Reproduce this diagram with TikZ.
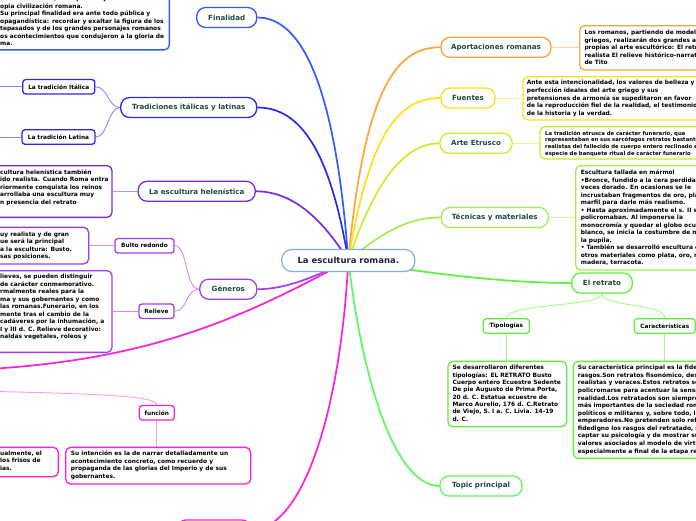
\documentclass[tikz,border=0pt]{standalone}
\usepackage{fontspec}
\setmainfont{DejaVu Sans}
\usetikzlibrary{backgrounds}
\definecolor{titlecol}{HTML}{1E4A3C}
\definecolor{centcol}{HTML}{1A2340}
\definecolor{cCen}{HTML}{7FB0DC}
\definecolor{cFin}{HTML}{2F5BFF}
\definecolor{cTra}{HTML}{2A2AEE}
\definecolor{cTraL}{HTML}{8A8AFF}
\definecolor{cHel}{HTML}{7A2BE8}
\definecolor{cGen}{HTML}{A33CF0}
\definecolor{cGenL}{HTML}{D08CFF}
\definecolor{cMag}{HTML}{FF1FD6}
\definecolor{cMagL}{HTML}{FF99EE}
\definecolor{cApo}{HTML}{FFA43A}
\definecolor{cFue}{HTML}{FFE01A}
\definecolor{cEtr}{HTML}{C6F02A}
\definecolor{cTec}{HTML}{A5EE4A}
\definecolor{cRet}{HTML}{5EF03A}
\definecolor{cRetL}{HTML}{9CFF80}
\definecolor{cTop}{HTML}{5CFA5C}
\newcommand\lf{\fontsize{5.9}{7.5}\selectfont\bfseries}
\newcommand\lfs{\fontsize{5.3}{6.67}\selectfont\bfseries}
\tikzset{
 mainnode/.style={draw, line width=1.3pt, rounded corners=9pt, fill=white, minimum height=20pt, inner sep=0pt, font=\fontsize{7.1}{8}\selectfont\bfseries, text=titlecol},
 subnode/.style={draw, line width=1.3pt, rounded corners=3pt, fill=white, minimum height=14.5pt, inner sep=0pt, font=\fontsize{5.8}{7}\selectfont\bfseries, text=black},
 leafbox/.style={draw, line width=1.3pt, rounded corners=5pt, fill=white, inner sep=0pt},
 leaftext/.style={inner sep=0pt, align=left, font=\lf, text=black, anchor=base west},
 branch/.style={line width=1.7pt},
 twig/.style={line width=0.9pt},
}
\begin{document}
\begin{tikzpicture}[x=1pt,y=-1pt]
\useasboundingbox (0,0) rectangle (696,520);
\clip (0,0) rectangle (696,520);
\coordinate (c) at (348.3,260.5);
% central
\node[draw=cCen, line width=1.2pt, rounded corners=10pt, fill=white, minimum width=133pt, minimum height=22pt, inner sep=0pt, font=\fontsize{8.5}{9}\selectfont\bfseries, text=centcol] (cen) at (c) {La escultura romana.};
% main nodes
\node[mainnode, draw=cFin, minimum width=60pt] (fin) at (226.7,17.5) {Finalidad};
\node[mainnode, draw=cTra, minimum width=136pt] (tra) at (188.7,107.5) {Tradiciones itálicas y latinas};
\node[mainnode, draw=cHel, minimum width=117pt] (hel) at (196.7,191.3) {La escultura helenística};
\node[mainnode, draw=cGen, minimum width=57pt] (gen) at (228.3,289.2) {Géneros};
\node[mainnode, draw=cApo, minimum width=110pt] (apo) at (496,47.3) {Aportaciones romanas};
\node[mainnode, draw=cFue, minimum width=54pt] (fue) at (468,98) {Fuentes};
\node[mainnode, draw=cEtr, minimum width=72pt] (etr) at (476,143.3) {Arte Etrusco};
\node[mainnode, draw=cTec, minimum width=107pt] (tec) at (494.7,217.5) {Técnicas y materiales};
\node[mainnode, draw=cRet, minimum width=60.7pt] (ret) at (602,283) {El retrato};
\node[mainnode, draw=cTop, minimum width=82pt] (top) at (481,486) {Topic principal};
\node[mainnode, draw=cMag, minimum width=74pt] (bot) at (214,530) {};
% sub nodes
\node[subnode, draw=cTra, minimum width=72pt] (ita) at (58.8,86.8) {La tradición Itálica};
\node[subnode, draw=cTra, minimum width=73pt] (lat) at (58.5,137) {La tradición Latina};
\node[subnode, draw=cGen, minimum width=59pt] (bul) at (144.5,245.8) {Bulto redondo};
\node[subnode, draw=cGen, minimum width=35pt] (rel) at (156.5,311.2) {Relieve};
\node[subnode, draw=cMag, minimum width=35pt] (fun) at (156.8,412.8) {función};
\node[subnode, draw=cRet, minimum width=46pt] (tip) at (506.3,326) {Tipologías};
\node[subnode, draw=cRet, minimum width=61pt] (car) at (664.8,326) {Características};
% leaf boxes (text nodes anchored at the baseline of their last line)
\node[leafbox, draw=cFin, anchor=south east, minimum width=300pt, minimum height=80pt] (finb) at (170,50.5) {};
\node[leaftext] (fint) at (0,45.8) {amente estética, sino que reflejasen los valores la\\opia civilización romana.\\Su principal finalidad era ante todo pública y\\opagandística: recordar y exaltar la figura de los\\tepasados y de los grandes personajes romanos\\os acontecimientos que condujeron a la gloria de\\ma.};
\node[leafbox, draw=cHel, anchor=north east, minimum width=250pt, minimum height=51.7pt] (helb) at (112.7,165) {};
\node[leaftext] (helt) at (0,204.2) {cultura helenística también\\ido realista. Cuando Roma entra\\riormente conquista los reinos\\arrollaba una escultura muy\\n presencia del retrato};
\node[leafbox, draw=cGen, anchor=north east, minimum width=250pt, minimum height=36.6pt] (bulb) at (89.3,226.7) {};
\node[leaftext] (bult) at (0,258.5) {uy realista y de gran\\ue será la principal\\a la escultura: Busto.\\sas posiciones.};
\node[leafbox, draw=cGen, anchor=north east, minimum width=250pt, minimum height=81.7pt] (relb) at (112.7,270) {};
\node[leaftext] (relt) at (0,338.7) {lieves, se pueden distinguir\\de carácter conmemorativo.\\rmalmente reales para la\\ma y sus gobernantes y como\\las romanas.Funerario, en los\\mente tras el cambio de la\\cadáveres por la inhumación, a\\I y III d. C. Relieve decorativo:\\naldas vegetales, roleos y};
\node[leafbox, draw=cMag, anchor=north west, minimum width=185pt, minimum height=36.6pt] (funb) at (65,446.7) {};
\node[leaftext] (funt) at (70.7,478) {Su intención es la de narrar detalladamente un\\acontecimiento concreto, como recuerdo y\\propaganda de las glorias del Imperio y de sus\\gobernantes.};
\node[leafbox, draw=cMag, anchor=north east, minimum width=200pt, minimum height=29.3pt] (lftb) at (59,446.7) {};
\node[leaftext] (lftt) at (0,470.3) {ualmente, el\\los frisos de\\ias.};
\node[leafbox, draw=cApo, anchor=north west, minimum width=200pt, minimum height=44.3pt] (apob) at (579,25) {};
\node[leaftext] (apot) at (584.3,64.7) {Los romanos, partiendo de modelos\\griegos, realizarán dos grandes aportaciones\\propias al arte escultórico: El retrato\\realista El relieve histórico-narrativo. Arco\\de Tito};
\node[leafbox, draw=cFue, anchor=north west, minimum width=200pt, minimum height=43.3pt] (fueb) at (522.3,76) {};
\node[leaftext, font=\fontsize{5.9}{7.65}\selectfont\bfseries] (fuet) at (526.7,115.3) {Ante esta intencionalidad, los valores de belleza y\\perfección ideales del arte griego y sus\\pretensiones de armonía se supeditaron en favor\\de la reproducción fiel de la realidad, el testimonio\\de la historia y la verdad.};
\node[leafbox, draw=cEtr, anchor=north west, minimum width=200pt, minimum height=32.3pt] (etrb) at (539.3,126) {};
\node[leaftext, font=\lfs] (etrt) at (545,155.3) {La tradición etrusca de carácter funerario, que\\representaban en sus sarcófagos retratos bastante\\realistas del fallecido de cuerpo entero reclinado en\\especie de banquete ritual de carácter funerario};
\node[leafbox, draw=cTec, anchor=north west, minimum width=200pt, minimum height=104.3pt] (tecb) at (575,165) {};
\node[leaftext] (tect) at (580.7,264.7) {Escultura tallada en mármol\\•Bronce, fundido a la cera perdida, a\\veces dorado. En ocasiones se le\\incrustaban fragmentos de oro, plata,\\marfil para darle más realismo.\\• Hasta aproximadamente el s. II se\\policromaban. Al imponerse la\\monocromía y quedar el globo ocular\\blanco, se inicia la costumbre de marcar\\la pupila.\\• También se desarrolló escultura en\\otros materiales como plata, oro, marfil,\\madera, terracota.};
\node[leafbox, draw=cRet, anchor=north west, minimum width=118.7pt, minimum height=65.3pt] (tipb) at (447.3,360.7) {};
\node[leaftext, font=\fontsize{5.9}{7.37}\selectfont\bfseries] (tipt) at (452.3,421.3) {Se desarrollaron diferentes\\tipologías: EL RETRATO Busto\\Cuerpo entero Ecuestre Sedente\\De pie Augusto de Prima Porta,\\20 d. C. Estatua ecuestre de\\Marco Aurelio, 176 d. C.Retrato\\de Viejo, S. I a. C. Livia. 14-19\\d. C.};
\node[leafbox, draw=cRet, anchor=north west, minimum width=200pt, minimum height=97pt] (carb) at (572.7,360.7) {};
\node[leaftext, font=\fontsize{5.9}{7.57}\selectfont\bfseries] (cart) at (577.7,453) {Su característica principal es la fidelidad de los\\rasgos.Son retratos fisonómico, descriptivos,\\realistas y veraces.Estos retratos solían\\policromarse para acentuar la sensación de\\realidad.Los retratados son siempre los personajes\\más importantes de la sociedad romana:\\políticos o militares y, sobre todo, los\\emperadores.No pretenden solo reflejar de manera\\fidedigno los rasgos del retratado, sino también\\captar su psicología y de mostrar sus\\valores asociados al modelo de virtud romana,\\especialmente a final de la etapa republicana.};
% free ends
\coordinate (ml) at (-3,368.5);
\coordinate (mf) at (-3,391.5);
\coordinate (ital) at (-3,86.8);
\coordinate (latl) at (-3,137);
\begin{scope}[on background layer]
\fill[white] (0,0) rectangle (696,520);
% main branches
\draw[branch, cFin] (c) .. controls (335,80) and (300,17.5) .. (fin.east);
\draw[branch, cTra] (c) .. controls (330,150) and (300,107.5) .. (tra.east);
\draw[branch, cHel] (c) .. controls (320,215) and (290,191.3) .. (hel.east);
\draw[branch, cGen] (c) .. controls (305,282) and (280,289.2) .. (gen.east);
\draw[branch, cApo] (c) .. controls (365,80) and (400,47.3) .. (apo.west);
\draw[branch, cFue] (c) .. controls (370,130) and (400,98) .. (fue.west);
\draw[branch, cEtr] (c) .. controls (375,180) and (405,143.3) .. (etr.west);
\draw[branch, cTec] (c) .. controls (385,230) and (410,217.5) .. (tec.west);
\draw[branch, cRet] (c) .. controls (420,272) and (500,283) .. (ret.west);
\draw[branch, cTop] (c) .. controls (365,400) and (400,486) .. (top.west);
\draw[branch, cMag] (c) .. controls (240,320) and (150,358) .. (ml);
\draw[branch, cMag] (c) .. controls (340,420) and (300,530) .. (bot.east);
% twigs
\draw[twig, cTraL] (tra.west) .. controls (108,107.5) and (108,86.8) .. (ita.east);
\draw[twig, cTraL] (tra.west) .. controls (108,107.5) and (108,137) .. (lat.east);
\draw[twig, cTraL] (ita.west) -- (ital);
\draw[twig, cTraL] (lat.west) -- (latl);
\draw[twig, cHel!50] (hel.west) -- (hel.west -| helb.east);
\draw[twig, cGenL] (gen.west) .. controls (185,289.2) and (188,245.8) .. (bul.east);
\draw[twig, cGenL] (gen.west) .. controls (185,289.2) and (188,311.2) .. (rel.east);
\draw[twig, cGenL] (bul.west) -- (bul.west -| bulb.east);
\draw[twig, cGenL] (rel.west) -- (rel.west -| relb.east);
\draw[twig, cMagL] (mf) .. controls (100,394) and (156.8,396) .. (fun.north);
\draw[twig, cMagL] (fun.south) -- (fun.south |- funb.north);
\draw[twig, cApo!50] (apo.east) -- (apo.east -| apob.west);
\draw[twig, cFue!50] (fue.east) -- (fue.east -| fueb.west);
\draw[twig, cEtr!50] (etr.east) -- (etr.east -| etrb.west);
\draw[twig, cTec!50] (tec.east) -- (tec.east -| tecb.west);
\draw[twig, cRetL] (ret.south) .. controls (602,307) and (506.3,303) .. (tip.north);
\draw[twig, cRetL] (ret.south) .. controls (602,307) and (664.8,303) .. (car.north);
\draw[twig, cRetL] (tip.south) -- (tip.south |- tipb.north);
\draw[twig, cRetL] (car.south) -- (car.south |- carb.north);
\end{scope}
\end{tikzpicture}
\end{document}
